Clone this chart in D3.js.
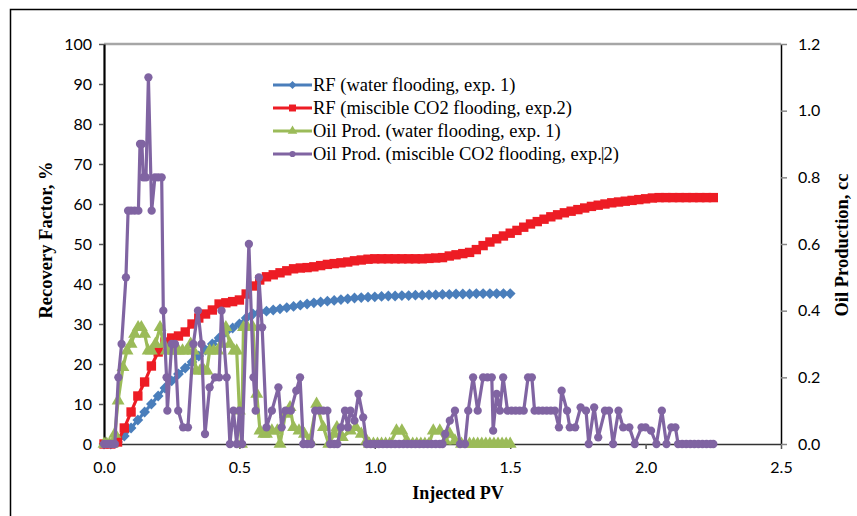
<!DOCTYPE html>
<html>
<head>
<meta charset="utf-8">
<script src="https://cdn.jsdelivr.net/npm/d3@7"></script>
<style>
  body { margin: 0; background: #fff; }
</style>
</head>
<body>
<script>
// Tick labels
const pvTicks = [0, 0.5, 1.0, 1.5, 2.0, 2.5];
const rfTicks = [0, 10, 20, 30, 40, 50, 60, 70, 80, 90, 100];
const oilTicks = [0, 0.2, 0.4, 0.6, 0.8, 1.0, 1.2];

// Injected PV grid for the recovery factor curves
const pvRF = [0, 0.025, 0.05, 0.075, 0.1, 0.125, 0.15, 0.175, 0.2, 0.225, 0.25, 0.275, 0.3, 0.325, 0.35, 0.375,
  0.4, 0.425, 0.45, 0.475, 0.5, 0.525, 0.55, 0.575, 0.6, 0.625, 0.65, 0.675, 0.7, 0.725, 0.75, 0.775,
  0.8, 0.825, 0.85, 0.875, 0.9, 0.925, 0.95, 0.975, 1.0, 1.025, 1.05, 1.075, 1.1, 1.125, 1.15, 1.175,
  1.2, 1.225, 1.25, 1.275, 1.3, 1.325, 1.35, 1.375, 1.4, 1.425, 1.45, 1.475, 1.5, 1.525, 1.55, 1.575,
  1.6, 1.625, 1.65, 1.675, 1.7, 1.725, 1.75, 1.775, 1.8, 1.825, 1.85, 1.875, 1.9, 1.925, 1.95, 1.975,
  2.0, 2.025, 2.05, 2.075, 2.1, 2.125, 2.15, 2.175, 2.2, 2.225, 2.25];

// RF (water flooding, exp. 1), %  -- up to 1.5 PV
const rfWater = [0, 0, 0.5, 2, 4, 6, 8, 10, 12, 14, 15.8, 17.5, 19, 20.5, 22, 23.5,
  25, 26.5, 28, 29, 30, 31.5, 32.5, 33, 33.2, 33.5, 33.8, 34.1, 34.4, 34.7, 35, 35.3,
  35.5, 35.7, 35.9, 36.1, 36.3, 36.5, 36.6, 36.7, 36.8, 36.9, 37, 37, 37.1, 37.1, 37.2, 37.2,
  37.3, 37.3, 37.4, 37.4, 37.5, 37.5, 37.5, 37.6, 37.6, 37.6, 37.6, 37.6, 37.6];

// RF (miscible CO2 flooding, exp.2), %
const rfCO2 = [0, 0, 0.5, 4, 8, 12, 15.5, 19.5, 23, 25.5, 26.5, 27, 28, 30, 31.5, 32.5,
  33.5, 35, 35.3, 35.6, 36, 37.5, 39.5, 41, 41.8, 42.3, 42.8, 43.3, 43.8, 44, 44.1, 44.3,
  44.6, 44.9, 45.1, 45.3, 45.5, 45.8, 46, 46.2, 46.3, 46.3, 46.3, 46.3, 46.3, 46.3, 46.3, 46.3,
  46.4, 46.5, 46.6, 47, 47.3, 47.6, 47.9, 48.6, 49.6, 50.5, 51.3, 52, 52.7, 53.4, 54.2, 55,
  55.6, 56.2, 56.8, 57.3, 57.8, 58.2, 58.6, 59, 59.4, 59.7, 60, 60.3, 60.5, 60.7, 60.9, 61.1,
  61.3, 61.5, 61.6, 61.6, 61.6, 61.6, 61.6, 61.6, 61.6, 61.6, 61.6];

// Oil Prod. (water flooding, exp. 1), cc : [PV, cc]
const oilWater = [[0, 0], [0.01, 0], [0.02, 0], [0.03, 0], [0.04, 0.03], [0.052, 0.13], [0.07, 0.23], [0.085, 0.28],
  [0.1, 0.3], [0.113, 0.33], [0.126, 0.35], [0.138, 0.35], [0.15, 0.33], [0.163, 0.28], [0.175, 0.28], [0.19, 0.3],
  [0.207, 0.35], [0.22, 0.3], [0.23, 0.28], [0.245, 0.28], [0.26, 0.28], [0.275, 0.28], [0.29, 0.28], [0.305, 0.28],
  [0.32, 0.3], [0.33, 0.28], [0.34, 0.22], [0.355, 0.22], [0.37, 0.22], [0.38, 0.22], [0.39, 0.28], [0.405, 0.28],
  [0.42, 0.28], [0.435, 0.3], [0.45, 0.35], [0.465, 0.3], [0.48, 0.28], [0.49, 0.28], [0.5, 0.1], [0.508, 0],
  [0.515, 0.35], [0.53, 0.35], [0.55, 0.35], [0.564, 0.15], [0.576, 0.04], [0.59, 0.03], [0.6, 0.03], [0.62, 0.04],
  [0.64, 0.04], [0.65, 0], [0.67, 0.09], [0.687, 0.11], [0.7, 0.05], [0.72, 0.04], [0.74, 0.03], [0.76, 0.01],
  [0.785, 0.12], [0.81, 0.05], [0.83, 0], [0.85, 0.03], [0.86, 0.05], [0.88, 0.02], [0.91, 0.04], [0.93, 0.05],
  [0.95, 0.03], [0.97, 0.01], [0.98, 0], [0.995, 0], [1.01, 0], [1.025, 0], [1.04, 0], [1.055, 0],
  [1.08, 0.04], [1.1, 0.04], [1.118, 0.01], [1.14, 0], [1.155, 0], [1.17, 0], [1.185, 0], [1.2, 0],
  [1.216, 0.04], [1.24, 0.04], [1.26, 0.01], [1.277, 0.03], [1.296, 0.01], [1.32, 0], [1.335, 0], [1.35, 0],
  [1.365, 0], [1.38, 0], [1.395, 0], [1.41, 0], [1.425, 0], [1.44, 0], [1.455, 0], [1.47, 0], [1.485, 0], [1.5, 0]];

// Oil Prod. (miscible CO2 flooding, exp.2), cc : [PV, cc]
const oilCO2 = [[0, 0], [0.01, 0], [0.02, 0], [0.03, 0], [0.04, 0],
  [0.053, 0.2], [0.065, 0.3], [0.081, 0.5], [0.089, 0.7], [0.1, 0.7], [0.113, 0.7], [0.127, 0.7],
  [0.133, 0.9], [0.14, 0.9], [0.145, 0.8], [0.155, 0.8], [0.164, 1.1], [0.176, 0.7], [0.188, 0.8], [0.2, 0.8], [0.213, 0.8],
  [0.219, 0.4], [0.231, 0.2], [0.234, 0.1], [0.25, 0.3], [0.262, 0.3], [0.274, 0.1], [0.292, 0.05], [0.31, 0.05],
  [0.33, 0.3], [0.347, 0.4], [0.36, 0.3], [0.373, 0.03], [0.39, 0.17], [0.41, 0.2], [0.425, 0.2], [0.434, 0.4], [0.453, 0.2],
  [0.465, 0], [0.478, 0.1], [0.49, 0], [0.5, 0.1], [0.51, 0], [0.535, 0.6], [0.552, 0.2], [0.56, 0.1], [0.572, 0.5], [0.584, 0.35],
  [0.6, 0.05], [0.62, 0.1], [0.644, 0.17], [0.656, 0.05], [0.67, 0.1], [0.69, 0.1], [0.71, 0.16], [0.724, 0.2],
  [0.736, 0], [0.75, 0], [0.765, 0], [0.78, 0.1], [0.795, 0.1], [0.81, 0.1], [0.825, 0.1], [0.835, 0], [0.85, 0], [0.862, 0],
  [0.875, 0.05], [0.89, 0.1], [0.9, 0.05], [0.91, 0.1], [0.925, 0.07], [0.94, 0.15], [0.957, 0.08],
  [0.97, 0], [0.985, 0], [1.0, 0], [1.015, 0], [1.03, 0], [1.045, 0], [1.06, 0], [1.075, 0], [1.09, 0], [1.105, 0],
  [1.12, 0], [1.135, 0], [1.15, 0], [1.165, 0], [1.18, 0], [1.195, 0], [1.21, 0], [1.225, 0], [1.24, 0], [1.25, 0],
  [1.26, 0.03], [1.277, 0.07], [1.296, 0.1], [1.315, 0], [1.333, 0], [1.345, 0.1], [1.363, 0.2], [1.38, 0.1],
  [1.4, 0.2], [1.416, 0.2], [1.432, 0.2], [1.437, 0.04], [1.45, 0.15], [1.462, 0.1], [1.474, 0.2], [1.49, 0.1],
  [1.505, 0.1], [1.52, 0.1], [1.535, 0.1], [1.55, 0.1], [1.566, 0.2], [1.58, 0.2], [1.59, 0.1], [1.605, 0.1],
  [1.62, 0.1], [1.635, 0.1], [1.65, 0.1], [1.665, 0.1], [1.68, 0.05], [1.69, 0.16], [1.71, 0.1], [1.72, 0.05],
  [1.74, 0.05], [1.76, 0.11], [1.78, 0.1], [1.79, 0], [1.81, 0.11], [1.825, 0.02], [1.85, 0.1], [1.865, 0.1],
  [1.88, 0], [1.9, 0.1], [1.917, 0.05], [1.94, 0.05], [1.96, 0], [1.985, 0.05], [2.0, 0.05], [2.02, 0.04],
  [2.04, 0], [2.06, 0.1], [2.077, 0], [2.095, 0.05], [2.11, 0.05], [2.12, 0], [2.135, 0], [2.15, 0], [2.165, 0],
  [2.18, 0], [2.195, 0], [2.21, 0], [2.225, 0], [2.24, 0], [2.25, 0]];

const legendLabels = [
  "RF (water flooding, exp. 1)",
  "RF (miscible CO2 flooding, exp.2)",
  "Oil Prod. (water flooding, exp. 1)",
  "Oil Prod. (miscible CO2 flooding, exp.2)"
];

const width = 857;
const height = 516;
const margin = { top: 44, right: 76, bottom: 72, left: 104 };

const svg = d3.select("body")
  .append("svg")
  .attr("width", width)
  .attr("height", height);

// outer frame (runs off the right and bottom edge)
svg.append("rect")
  .attr("x", 10.5).attr("y", 9.5)
  .attr("width", 900).attr("height", 600)
  .attr("fill", "none")
  .attr("stroke", "#000")
  .attr("stroke-width", 1.5);

const x = d3.scaleLinear().domain([0, 2.5]).range([margin.left, width - margin.right]);
const yL = d3.scaleLinear().domain([0, 100]).range([height - margin.bottom, margin.top]);
const yR = d3.scaleLinear().domain([0, 1.2]).range([height - margin.bottom, margin.top]);

// plot area top border
svg.append("line")
  .attr("x1", x(0)).attr("x2", x(2.5))
  .attr("y1", yL(100)).attr("y2", yL(100))
  .attr("stroke", "#a6a6a6")
  .attr("stroke-width", 2.5);

const tickFont = "Lato, 'Open Sans', sans-serif";

// axes
const xAxis = svg.append("g")
  .attr("transform", `translate(0, ${yL(0)})`)
  .call(d3.axisBottom(x).tickValues(pvTicks).tickFormat(d3.format(".1f"))
    .tickSize(5).tickSizeOuter(0).tickPadding(13));

const leftAxis = svg.append("g")
  .attr("transform", `translate(${x(0)}, 0)`)
  .call(d3.axisLeft(yL).tickValues(rfTicks).tickSize(5).tickSizeOuter(0).tickPadding(7));

const rightAxis = svg.append("g")
  .attr("transform", `translate(${x(2.5)}, 0)`)
  .call(d3.axisRight(yR).tickValues(oilTicks).tickFormat(d3.format(".1f"))
    .tickSize(6).tickSizeOuter(0).tickPadding(11));

[xAxis, leftAxis, rightAxis].forEach(g => {
  g.selectAll("text")
    .style("font-family", tickFont)
    .style("font-size", "16px")
    .attr("fill", "#000");
  g.select(".domain").attr("stroke", "#000").attr("stroke-width", 1.5);
  g.selectAll(".tick line").attr("stroke", "#555").attr("stroke-width", 1.5);
});
leftAxis.select(".domain").attr("stroke-width", 2.2);
xAxis.select(".domain").attr("stroke", "#333");
rightAxis.selectAll(".tick line").attr("stroke", "#888");

// axis titles
const titleFont = "'Liberation Serif', 'Times New Roman', serif";

svg.append("text")
  .attr("transform", "translate(52, 240) rotate(-90)")
  .attr("text-anchor", "middle")
  .style("font-family", titleFont)
  .style("font-weight", "bold")
  .style("font-size", "18.5px")
  .text("Recovery Factor, %");

svg.append("text")
  .attr("transform", "translate(848, 245) rotate(-90)")
  .attr("text-anchor", "middle")
  .style("font-family", titleFont)
  .style("font-weight", "bold")
  .style("font-size", "18.5px")
  .text("Oil Production, cc");

svg.append("text")
  .attr("x", 458)
  .attr("y", 499)
  .attr("text-anchor", "middle")
  .style("font-family", titleFont)
  .style("font-weight", "bold")
  .style("font-size", "18px")
  .text("Injected PV");

// series
const series = [
  { data: pvRF.slice(0, rfWater.length).map((p, i) => [p, rfWater[i]]), y: yL, color: "#4a7ebb",
    symbol: d3.symbolSquare, size: 58, rotate: 45 },
  { data: pvRF.map((p, i) => [p, rfCO2[i]]), y: yL, color: "#ed1c24",
    symbol: d3.symbolSquare, size: 88, rotate: 0 },
  { data: oilWater, y: yR, color: "#9bbb59", symbol: d3.symbolTriangle, size: 72, rotate: 0 },
  { data: oilCO2, y: yR, color: "#8064a2", symbol: d3.symbolCircle, size: 54, rotate: 0 }
];

series.forEach(s => {
  const line = d3.line().x(d => x(d[0])).y(d => s.y(d[1]));
  svg.append("path")
    .datum(s.data)
    .attr("d", line)
    .attr("fill", "none")
    .attr("stroke", s.color)
    .attr("stroke-width", 3.2)
    .attr("stroke-linejoin", "round");

  svg.append("g")
    .selectAll("path")
    .data(s.data)
    .enter()
    .append("path")
    .attr("d", d3.symbol().type(s.symbol).size(s.size))
    .attr("transform", d => `translate(${x(d[0])}, ${s.y(d[1])}) rotate(${s.rotate})`)
    .attr("fill", s.color);
});

// legend
const legend = svg.append("g").attr("transform", "translate(273, 85)");
series.forEach((s, i) => {
  const row = legend.append("g").attr("transform", `translate(0, ${i * 23})`);
  row.append("line")
    .attr("x1", 0).attr("x2", 39)
    .attr("stroke", s.color)
    .attr("stroke-width", 3);
  row.append("path")
    .attr("d", d3.symbol().type(s.symbol).size(s.size * 0.55))
    .attr("transform", `translate(19.5, 0) rotate(${s.rotate})`)
    .attr("fill", s.color);
  const label = row.append("text")
    .attr("x", 40)
    .attr("dy", "0.35em")
    .style("font-family", titleFont)
    .style("font-size", "18.5px");
  if (i === 3) {
    // the source image has a stray text cursor before the "2"
    label.append("tspan").text("Oil Prod. (miscible CO2 flooding, exp.");
    label.append("tspan").attr("dx", -1).style("font-weight", "300").text("|");
    label.append("tspan").attr("dx", -1).text("2)");
  } else {
    label.text(legendLabels[i]);
  }
});
</script>
</body>
</html>
